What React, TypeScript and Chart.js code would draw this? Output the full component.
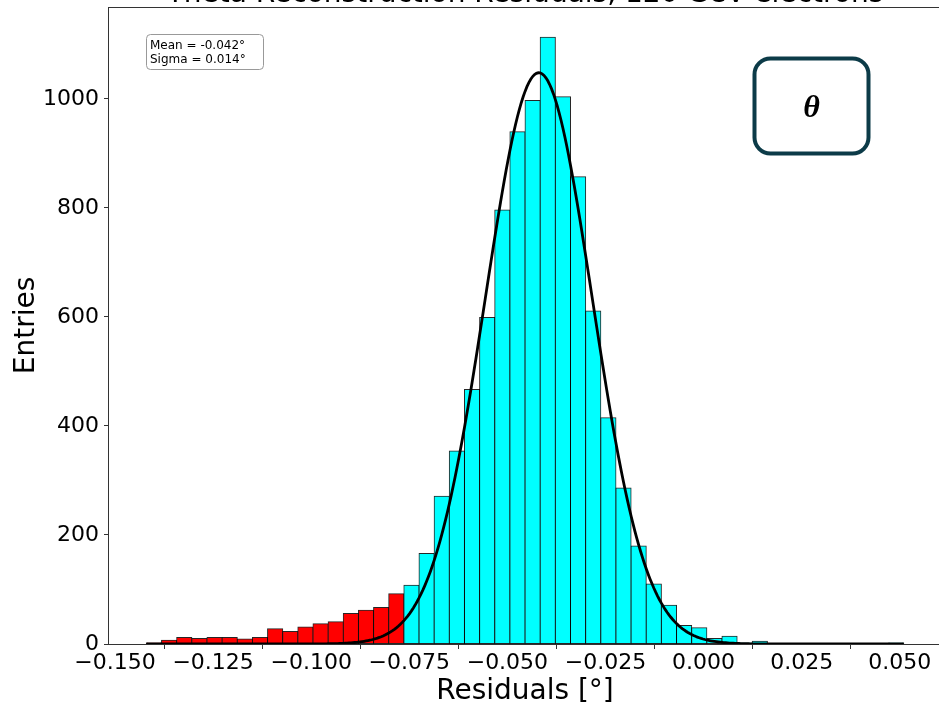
import React, { useEffect, useRef } from 'react';
import { Chart, registerables } from 'chart.js';

Chart.register(...registerables);

// ---------- text ----------
const TITLE = 'Theta Reconstruction Residuals, 120 GeV electrons';
const X_LABEL = 'Residuals [°]';
const Y_LABEL = 'Entries';
const STATS_LINES = ['Mean = -0.042°', 'Sigma = 0.014°'];
const BADGE = 'θ';

// ---------- histogram data ----------
const HIST_MIN = -0.142;
const HIST_MAX = 0.051;
const COUNTS = [
  2, 7, 12, 10, 12, 12, 9, 12, 28, 23,
  31, 37, 41, 56, 62, 67, 92, 108, 166, 271,
  354, 467, 599, 796, 940, 997, 1113, 1004, 857, 611,
  415, 286, 180, 110, 71, 34, 30, 10, 14, 2,
  5, 1, 1, 1, 0, 1, 0, 1, 0, 2,
];
const TAIL_CUT = -0.0763;

// ---------- gaussian fit parameters ----------
const FIT_MEAN = -0.042;
const FIT_SIGMA = 0.0136;
const FIT_AMPLITUDE = 1048;
const FIT_SAMPLES = 400;

// ---------- axes ----------
const X_TICKS = [-0.15, -0.125, -0.1, -0.075, -0.05, -0.025, 0, 0.025, 0.05];
const Y_TICKS = [0, 200, 400, 600, 800, 1000];
const X_MIN = -0.15153;
const X_MAX = 0.0605;
const Y_MAX = 1168.65;

const RED = '#ff0000';
const CYAN = '#00ffff';
const FONT = '"DejaVu Sans", sans-serif';

function roundRectPath(ctx: CanvasRenderingContext2D, x: number, y: number, w: number, h: number, r: number) {
  ctx.beginPath();
  ctx.moveTo(x + r, y);
  ctx.lineTo(x + w - r, y);
  ctx.arcTo(x + w, y, x + w, y + r, r);
  ctx.lineTo(x + w, y + h - r);
  ctx.arcTo(x + w, y + h, x + w - r, y + h, r);
  ctx.lineTo(x + r, y + h);
  ctx.arcTo(x, y + h, x, y + h - r, r);
  ctx.lineTo(x, y + r);
  ctx.arcTo(x, y, x + r, y, r);
  ctx.closePath();
}

const decorPlugin = {
  id: 'decor',
  afterDraw(chart: any) {
    const ctx: CanvasRenderingContext2D = chart.ctx;
    const a = chart.chartArea;
    ctx.save();
    // frame (spines)
    ctx.strokeStyle = '#333';
    ctx.lineWidth = 1;
    ctx.strokeRect(Math.round(a.left) - 0.5, Math.round(a.top) + 0.5, Math.round(a.right - a.left) + 1, Math.round(a.bottom - a.top));

    // title (cut off at the top in the reference)
    ctx.fillStyle = '#000';
    ctx.font = `28px ${FONT}`;
    ctx.textAlign = 'center';
    ctx.textBaseline = 'alphabetic';
    ctx.fillText(TITLE, (a.left + a.right) / 2, a.top - 5);

    // stats box
    const bx = a.left + 37.5;
    const by = a.top + 27.5;
    roundRectPath(ctx, bx, by, 117, 35, 4);
    ctx.fillStyle = '#fff';
    ctx.fill();
    ctx.strokeStyle = '#999';
    ctx.lineWidth = 1;
    ctx.stroke();
    ctx.fillStyle = '#000';
    ctx.font = `12px ${FONT}`;
    ctx.textAlign = 'left';
    ctx.textBaseline = 'alphabetic';
    ctx.fillText(STATS_LINES[0], bx + 3.5, by + 14);
    ctx.fillText(STATS_LINES[1], bx + 3.5, by + 28.5);

    // theta badge
    roundRectPath(ctx, 754.5, 58.5, 114, 95, 16);
    ctx.strokeStyle = '#0c3b48';
    ctx.lineWidth = 4;
    ctx.stroke();
    ctx.fillStyle = '#000';
    ctx.font = 'bold italic 32px "Liberation Serif", serif';
    ctx.textAlign = 'center';
    ctx.textBaseline = 'middle';
    ctx.fillText(BADGE, 811.5, 108.5);
    ctx.restore();
  },
};

export default function App() {
  const ref = useRef<HTMLCanvasElement | null>(null);

  useEffect(() => {
    document.body.style.margin = '0';
    const canvas = ref.current;
    if (!canvas) return;

    const binWidth = (HIST_MAX - HIST_MIN) / COUNTS.length;
    const centers = COUNTS.map((_, i) => HIST_MIN + binWidth * (i + 0.5));
    const barData = COUNTS.map((c, i) => ({ x: centers[i], y: c }));
    const barColors = centers.map((c) => (c < TAIL_CUT ? RED : CYAN));

    const fitData: { x: number; y: number }[] = [];
    for (let k = 0; k <= FIT_SAMPLES; k++) {
      const x = HIST_MIN + ((HIST_MAX - HIST_MIN) * k) / FIT_SAMPLES;
      const z = (x - FIT_MEAN) / FIT_SIGMA;
      fitData.push({ x, y: FIT_AMPLITUDE * Math.exp(-0.5 * z * z) });
    }

    const chart = new Chart(canvas, {
      type: 'bar',
      data: {
        datasets: [
          {
            type: 'line',
            data: fitData,
            borderColor: '#000',
            borderWidth: 2.8,
            pointRadius: 0,
            fill: false,
            tension: 0,
            order: 0,
          } as any,
          {
            type: 'bar',
            data: barData,
            backgroundColor: barColors,
            borderColor: 'rgba(0,0,0,0.85)',
            borderWidth: 1,
            borderSkipped: false,
            inflateAmount: 0.5,
            barPercentage: 1,
            categoryPercentage: 1,
            order: 1,
          } as any,
        ],
      },
      options: {
        animation: false,
        responsive: false,
        devicePixelRatio: 1,
        events: [],
        layout: { padding: { left: 0, top: 7, right: 4, bottom: 0 } },
        plugins: {
          legend: { display: false },
          tooltip: { enabled: false },
          title: { display: false },
        },
        scales: {
          x: {
            type: 'linear',
            min: X_MIN,
            max: X_MAX,
            offset: false,
            afterBuildTicks: (scale: any) => {
              scale.ticks = X_TICKS.map((v) => ({ value: v }));
            },
            afterFit: (scale: any) => {
              scale.height = 62;
              scale.paddingLeft = 0;
              scale.paddingRight = 0;
              scale.paddingTop = 0;
              scale.paddingBottom = 0;
            },
            ticks: {
              autoSkip: false,
              maxRotation: 0,
              padding: 1,
              color: '#000',
              font: { family: FONT, size: 22 },
              callback: (v: any) => Number(v).toFixed(3).replace('-', '\u2212'),
            },
            grid: {
              display: true,
              drawOnChartArea: false,
              drawTicks: true,
              tickLength: 5,
              color: '#333',
              lineWidth: 1,
            },
            border: { display: false },
            title: {
              display: true,
              text: X_LABEL,
              color: '#000',
              font: { family: FONT, size: 28, lineHeight: 1 },
              padding: { top: 0, bottom: 0 },
            },
          } as any,
          y: {
            type: 'linear',
            min: 0,
            max: Y_MAX,
            afterBuildTicks: (scale: any) => {
              scale.ticks = Y_TICKS.map((v) => ({ value: v }));
            },
            afterFit: (scale: any) => {
              scale.width = 109;
              scale.paddingLeft = 0;
              scale.paddingRight = 0;
              scale.paddingTop = 0;
              scale.paddingBottom = 0;
            },
            ticks: {
              padding: 5,
              color: '#000',
              font: { family: FONT, size: 22 },
              callback: (v: any) => String(Math.round(Number(v))),
            },
            grid: {
              display: true,
              drawOnChartArea: false,
              drawTicks: true,
              tickLength: 5,
              color: '#333',
              lineWidth: 1,
            },
            border: { display: false },
            title: {
              display: true,
              text: Y_LABEL,
              color: '#000',
              font: { family: FONT, size: 28, lineHeight: 1 },
              padding: { top: 13, bottom: 0 },
            },
          } as any,
        },
      },
      plugins: [decorPlugin],
    });

    return () => chart.destroy();
  }, []);

  return (
    <div style={{ width: 939, height: 706, overflow: 'hidden', background: '#fff' }}>
      <canvas ref={ref} width={945} height={706} style={{ display: 'block', width: 945, height: 706 }} />
    </div>
  );
}
